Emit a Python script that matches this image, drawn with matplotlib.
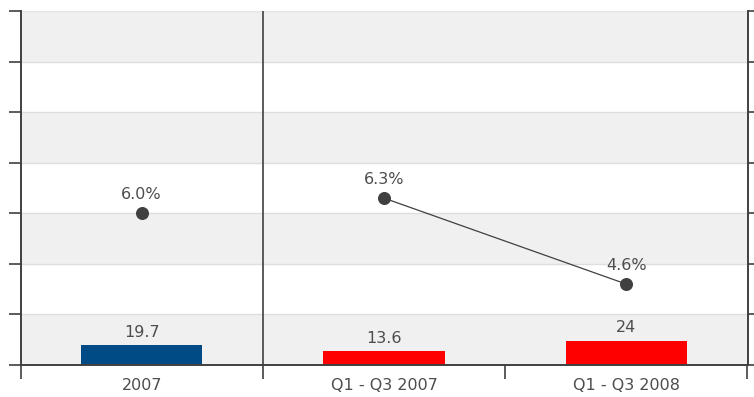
import numpy as np
import matplotlib
matplotlib.use("Agg")
import matplotlib.pyplot as plt

periods = ["2007", "Q1 - Q3 2007", "Q1 - Q3 2008"]
volumes = [19.7, 13.6, 24]
bar_colors = ["#004a85", "#ff0000", "#ff0000"]
rates = [6.0, 6.3, 4.6]
rate_labels = ["6.0%", "6.3%", "4.6%"]

text_col = "#4d4d4d"
plt.rcParams["font.family"] = ["DejaVu Sans"]

fig = plt.figure(figsize=(7.54, 3.97), dpi=100)
ax = fig.add_axes([20.5 / 754, 1 - 365 / 397, 727 / 754, 354 / 397])
ax2 = ax.twinx()

x = np.arange(len(periods))
ax.set_xlim(-0.5, 2.5)
ax.set_ylim(0, 350)
ax2.set_ylim(3, 10)

# alternating horizontal bands
for i, lo in enumerate(range(0, 350, 50)):
    if i % 2 == 0:
        ax.axhspan(lo, lo + 50, color="#f0f0f0", zorder=0, lw=0)
    ax.axhline(lo, color="#dedede", lw=1, zorder=0.5)
ax.axhline(350, color="#e4e4e4", lw=1, zorder=0.5)

ax.bar(x, volumes, width=0.5, color=bar_colors, zorder=2)
for xi, v in zip(x, volumes):
    ax.annotate(f"{v:g}", (xi, v), xytext=(0, 4), textcoords="offset points",
                ha="center", va="bottom", fontsize=11.5, color=text_col)

# separator between the full year and the nine-month periods
ax.axvline(0.5, color="#404040", lw=1.2, zorder=3)

ax2.plot(x[1:], rates[1:], color="#404040", lw=0.9, zorder=3)
ax2.scatter(x, rates, s=70, color="#404040", zorder=4)
for xi, r, lab in zip(x, rates, rate_labels):
    ax2.annotate(lab, (xi, r), xytext=(0, 8), textcoords="offset points",
                 ha="center", va="bottom", fontsize=11.5, color=text_col)

for a in (ax, ax2):
    a.spines["top"].set_visible(False)
    for s in ("left", "right", "bottom"):
        a.spines[s].set_color("#404040")
        a.spines[s].set_linewidth(1.2)

ax.set_yticks(np.arange(0, 351, 50))
ax.tick_params(axis="y", direction="out", length=9, width=1.2, color="#404040",
               labelleft=False)
ax2.set_yticks(np.arange(3, 11, 1))
ax2.tick_params(axis="y", direction="out", length=9, width=1.2, color="#404040",
                labelright=False)

ax.set_xticks([-0.5, 0.5, 1.5, 2.5])
ax.set_xticklabels([])
ax.set_xticks(x, minor=True)
ax.set_xticklabels(periods, minor=True)
ax.tick_params(axis="x", which="major", direction="out", length=10, width=1.2,
               color="#404040")
ax.tick_params(axis="x", which="minor", length=0, pad=9, labelsize=11.5,
               labelcolor=text_col)

ax.set_zorder(ax2.get_zorder() - 1)
ax2.patch.set_visible(False)

fig.savefig("out.png", dpi=100, facecolor="white")
